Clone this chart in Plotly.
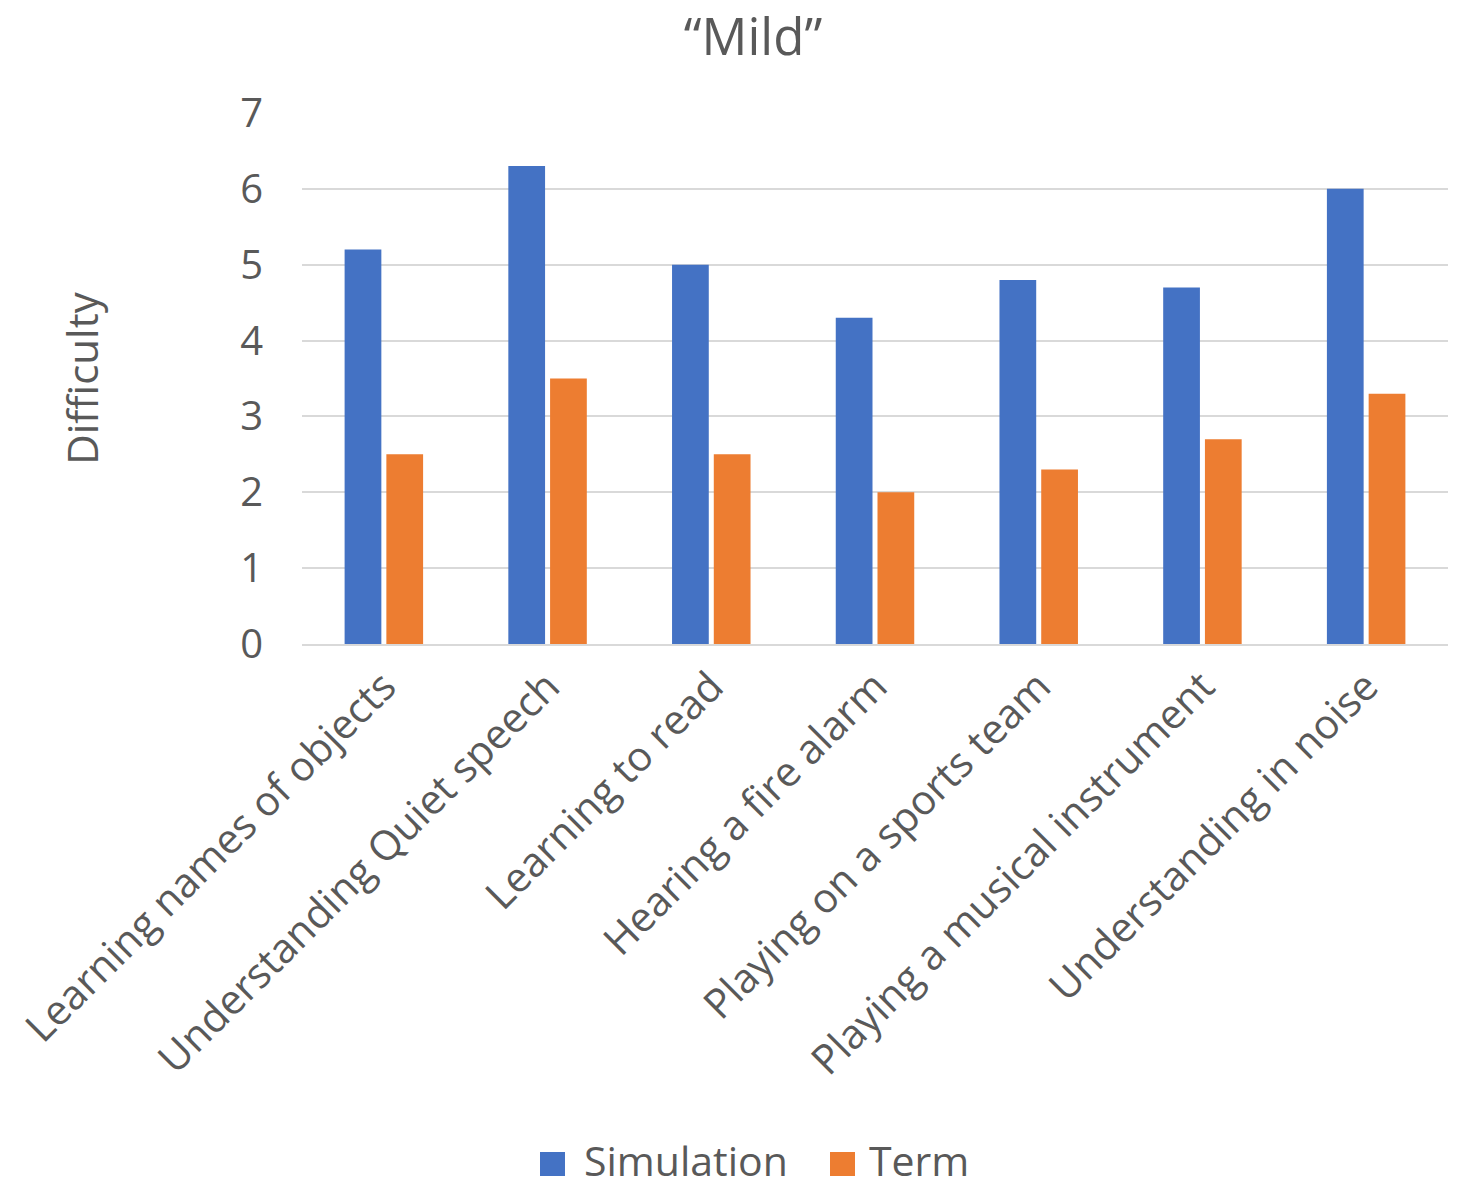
import plotly.graph_objects as go

categories = [
    "Learning names of objects",
    "Understanding Quiet speech",
    "Learning to read",
    "Hearing a fire alarm",
    "Playing on a sports team",
    "Playing a musical instrument",
    "Understanding in noise",
]
series_names = ["Simulation", "Term"]
simulation = [5.2, 6.3, 5.0, 4.3, 4.8, 4.7, 6.0]
term = [2.5, 3.5, 2.5, 2.0, 2.3, 2.7, 3.3]

FONT = "Open Sans"
GREY = "#595959"
COLORS = ["#4472C4", "#ED7D31"]

fig = go.Figure()
for name, vals, col in zip(series_names, [simulation, term], COLORS):
    fig.add_trace(go.Bar(name=name, x=categories, y=vals, showlegend=False,
                         marker=dict(color=col, line=dict(width=0))))

# Legend drawn as square swatches with labels, centred under the chart
legend_items = [(540, 582), (830, 867)]  # (swatch left, label left) in px
W, H = 1458, 1188
for (sx, tx), name, col in zip(legend_items, series_names, COLORS):
    fig.add_shape(type="rect", xref="paper", yref="paper",
                  x0=(sx - 302) / 1146, x1=(sx + 25 - 302) / 1146,
                  y0=-(1176 - 644) / 531, y1=-(1152 - 644) / 531,
                  fillcolor=col, line=dict(width=0))
    fig.add_annotation(text=name, xref="paper", yref="paper",
                       x=(tx - 302) / 1146, y=-(1160 - 644) / 531,
                       xanchor="left", yanchor="middle", showarrow=False,
                       font=dict(size=41, color=GREY, family=FONT))

fig.update_layout(
    width=W, height=H,
    margin=dict(l=302, r=10, t=113, b=544),
    paper_bgcolor="white", plot_bgcolor="white",
    barmode="group", bargap=0.49, bargroupgap=0.12,
    font=dict(family=FONT, color=GREY),
    title=dict(text="\u201cMild\u201d", x=753 / W, xref="container", xanchor="center",
               y=1 - 37 / H, yref="container", yanchor="middle",
               font=dict(size=51, color=GREY, family=FONT)),
    showlegend=False,
)
fig.update_xaxes(
    tickangle=-45, tickfont=dict(size=41, color=GREY, family=FONT),
    showgrid=False, showline=True, linecolor="#d9d9d9", linewidth=2,
    ticks="", ticklen=0, automargin=False,
)
fig.update_yaxes(
    range=[0, 7], dtick=1, tick0=0,
    tickfont=dict(size=40, color=GREY, family=FONT),
    ticklabelstandoff=38,
    showgrid=True, gridcolor="#d9d9d9", gridwidth=2,
    zeroline=False, showline=False, ticks="", ticklen=0,
    title=dict(text="Difficulty", font=dict(size=42, color=GREY, family=FONT), standoff=128),
    automargin=False,
)

fig.write_html("out.html")
